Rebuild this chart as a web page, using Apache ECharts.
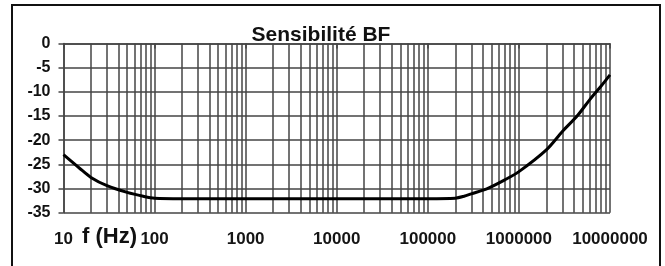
<!DOCTYPE html>
<html><head><meta charset="utf-8">
<script src="https://cdn.jsdelivr.net/npm/echarts@6/dist/echarts.min.js"></script>
<style>html,body{margin:0;padding:0;background:#fff}#c{width:665px;height:266px}</style>
</head><body><div id="c"></div>
<script>
const title = 'Sensibilité BF';
const xName = 'f (Hz)';
const freqs = [10, 15, 20, 30, 50, 75, 100, 200, 1000, 10000, 100000, 200000, 250000, 300000, 450000, 700000, 1000000, 2000000, 3000000, 4400000, 6000000, 8000000, 10000000];
const levels = [-23, -25.8, -27.7, -29.4, -30.8, -31.6, -32, -32.1, -32.1, -32.1, -32.1, -32, -31.6, -31.1, -30, -28.2, -26.5, -22, -18.2, -14.9, -11.6, -8.8, -6.5];
const yTicks = [0, -5, -10, -15, -20, -25, -30, -35];
const minorFreqs = [];
for (let d = 10; d < 1e7; d *= 10) for (let k = 2; k <= 9; k++) minorFreqs.push(k * d);

const gridColor = '#454545';
const chart = echarts.init(document.getElementById('c'));
chart.setOption({
  animation: false,
  backgroundColor: '#fff',
  title: {text: title, left: 316, top: 20, textAlign: 'center',
    textStyle: {fontFamily: 'Liberation Sans', fontWeight: 'bold', fontSize: 21, color: '#111'}},
  grid: {left: 63.5, top: 43.5, right: 55, bottom: 53.3},
  xAxis: {type: 'log', logBase: 10, min: 10, max: 1e7,
    axisLine: {show: true, lineStyle: {color: gridColor, width: 1.5}},
    axisTick: {show: true, length: 5, lineStyle: {color: gridColor, width: 1.5}},
    splitLine: {show: true, lineStyle: {color: gridColor, width: 1.5}},
    axisLabel: {fontFamily: 'Liberation Sans', fontWeight: 'bold', fontSize: 17, color: '#151515', margin: 18.5,
      formatter: v => String(Math.round(v))}},
  yAxis: {type: 'value', min: -35, max: 0, interval: 5,
    axisLine: {show: true, lineStyle: {color: gridColor, width: 1.5}},
    axisTick: {show: true, length: 5, lineStyle: {color: gridColor, width: 1.5}},
    splitLine: {show: true, lineStyle: {color: gridColor, width: 1.5}},
    axisLabel: {fontFamily: 'Liberation Sans', fontWeight: 'bold', fontSize: 16, color: '#111', margin: 13,
      formatter: v => yTicks.includes(v) ? String(v) : ''}},
  graphic: [
    {type: 'rect', shape: {x: 12, y: 5, width: 648, height: 280}, style: {fill: 'none', stroke: '#111', lineWidth: 2}},
    {type: 'text', x: 82, y: 237, style: {text: xName, fontFamily: 'Liberation Sans', fontWeight: 'bold', fontSize: 22, fill: '#111', verticalAlign: 'middle'}}
  ],
  series: [{
    type: 'line', data: freqs.map((f, i) => [f, levels[i]]), showSymbol: false, smooth: 0.3,
    lineStyle: {color: '#000', width: 3}, z: 5,
    markLine: {silent: true, symbol: 'none', label: {show: false},
      lineStyle: {color: gridColor, width: 1.5, type: 'solid'},
      data: minorFreqs.map(f => ({xAxis: f}))}
  }]
});
</script></body></html>
